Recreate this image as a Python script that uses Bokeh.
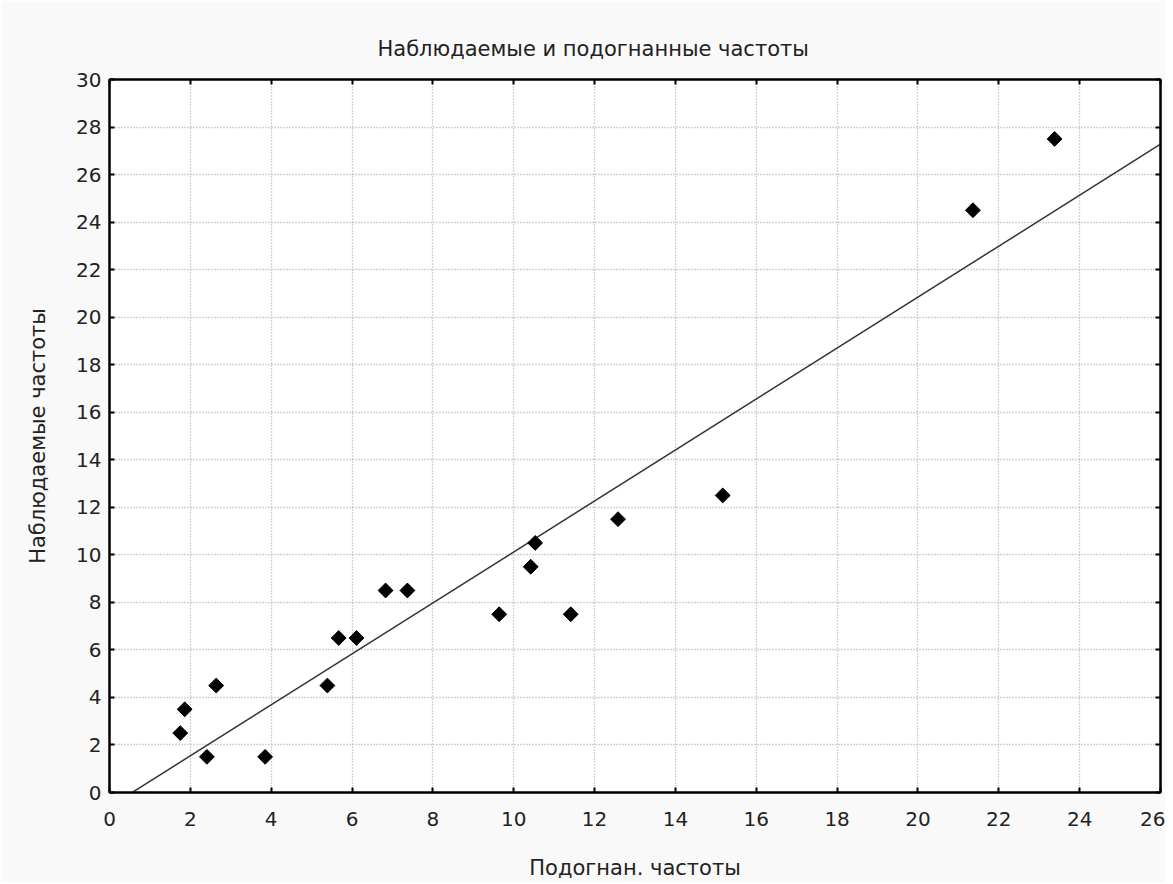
import numpy as np
from bokeh.plotting import figure
from bokeh.models import Range1d, SingleIntervalTicker, LinearAxis, ColumnDataSource
from bokeh.embed import file_html
from bokeh.resources import INLINE

# data
fitted = [1.75, 1.86, 2.41, 2.64, 3.85, 5.39, 5.67, 6.11, 6.83, 7.37,
          9.64, 10.42, 10.53, 11.41, 12.58, 15.17, 21.36, 23.38]
observed = [2.5, 3.5, 1.5, 4.5, 1.5, 4.5, 6.5, 6.5, 8.5, 8.5,
            7.5, 9.5, 10.5, 7.5, 11.5, 12.5, 24.5, 27.5]
x_limits = [0, 26]
y_limits = [0, 30]
tick_step = 2

title_text = "Наблюдаемые и подогнанные частоты"
x_label = "Подогнан. частоты"
y_label = "Наблюдаемые частоты"

FONT = "DejaVu Sans"

p = figure(width=1165, height=882, output_backend="svg", toolbar_location=None,
           x_range=Range1d(*x_limits), y_range=Range1d(*y_limits),
           min_border_left=109, min_border_right=5, min_border_top=79, min_border_bottom=90,
           title=title_text)

p.border_fill_color = "#f9f9f9"
p.background_fill_color = "white"
p.outline_line_color = "black"
p.outline_line_width = 2

p.title.text_font = FONT
p.title.text_font_style = "normal"
p.title.text_font_size = "21px"
p.title.text_color = "#222222"
p.title.align = "left"
p.title.offset = 268
p.title.standoff = 37

for ax, lab in ((p.xaxis[0], x_label), (p.yaxis[0], y_label)):
    ax.axis_label = lab
    ax.axis_label_text_font = FONT
    ax.axis_label_text_font_style = "normal"
    ax.axis_label_text_font_size = "21px"
    ax.axis_label_text_color = "#222222"
    ax.major_label_text_font = FONT
    ax.major_label_text_font_size = "20px"
    ax.major_label_text_color = "#222222"
    ax.ticker = SingleIntervalTicker(interval=tick_step, num_minor_ticks=0)
    ax.major_tick_in = 5
    ax.major_tick_out = 0
    ax.minor_tick_line_color = None
    ax.axis_line_color = "black"
    ax.axis_line_width = 2
    ax.major_tick_line_width = 2

p.xaxis[0].major_label_standoff = 19
p.xaxis[0].axis_label_standoff = 27
p.yaxis[0].major_label_standoff = 8
p.yaxis[0].axis_label_standoff = 23

for side in ("above", "right"):
    ax = LinearAxis(ticker=SingleIntervalTicker(interval=tick_step, num_minor_ticks=0))
    ax.major_label_text_font_size = "1px"
    ax.major_label_text_color = None
    ax.major_label_standoff = 0
    ax.major_tick_in = 5
    ax.major_tick_out = 0
    ax.minor_tick_line_color = None
    ax.axis_line_color = "black"
    ax.axis_line_width = 2
    ax.major_tick_line_width = 2
    p.add_layout(ax, side)

for g in (p.xgrid[0], p.ygrid[0]):
    g.ticker = SingleIntervalTicker(interval=tick_step, num_minor_ticks=0)
    g.grid_line_color = "#a8a8a8"
    g.grid_line_dash = "1 2"
    g.grid_line_width = 1.3

# regression line of observed on fitted
slope, intercept = np.polyfit(fitted, observed, 1)
lx = np.array(x_limits, dtype=float)
p.line(lx, intercept + slope * lx, line_color="#333333", line_width=1.5)

src = ColumnDataSource(dict(x=fitted, y=observed))
p.scatter("x", "y", source=src, marker="square", angle=np.pi / 4, size=10.5,
          fill_color="black", line_color="black", line_width=1)

open("out.html", "w").write(file_html(p, INLINE))
